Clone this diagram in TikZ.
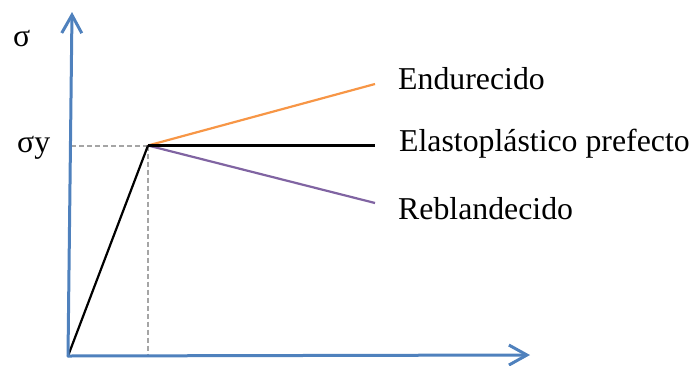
\documentclass[tikz,border=0pt]{standalone}
\usepackage{fontspec}
\setmainfont{Liberation Serif}
\usetikzlibrary{arrows.meta}
\definecolor{axisblue}{HTML}{4F81BD}
\definecolor{hardorange}{HTML}{F79646}
\definecolor{softpurple}{HTML}{8064A2}
\definecolor{guidegrey}{HTML}{A5A5A5}
\tikzset{
  axis/.style={draw=axisblue, line width=3pt, line cap=round,
    -{Straight Barb[length=18pt, width=20pt, line width=3pt]}},
  curve/.style={line width=2.2pt},
  guide/.style={draw=guidegrey, line width=2pt, dash pattern=on 5pt off 3pt},
  lbl/.style={anchor=base west, inner sep=0pt, font=\fontsize{31.8}{36}\selectfont}
}
\begin{document}
\begin{tikzpicture}[x=1pt, y=-1pt]
  \useasboundingbox (0,0) rectangle (696,365);
  % key points
  \coordinate (O) at (68,356);
  \coordinate (ytip) at (72,12);
  \coordinate (xtip) at (530,355);
  \coordinate (Y) at (148,145.5);
  \coordinate (yaxisY) at (71,145.5);
  \coordinate (xaxisY) at (148,356);
  \coordinate (hard) at (375,84);
  \coordinate (perf) at (375,145.5);
  \coordinate (soft) at (375,203);
  % yield guide lines
  \draw[guide] (yaxisY) -- (Y);
  \draw[guide] (Y) -- (xaxisY);
  % stress-strain branches
  \draw[curve, black] (O) -- (Y);
  \draw[curve, hardorange] (Y) -- (hard);
  \draw[curve, softpurple] (Y) -- (soft);
  \draw[curve, black] (Y) -- (perf);
  % axes
  \draw[axis] (O) -- (ytip);
  \draw[axis] (O) -- (xtip);
  % labels
  \node[lbl] (sig) at (13,46) {σ};
  \node[lbl] (sigy) at (17,152) {σy};
  \node[lbl] (lhard) at (398,89) {Endurecido};
  \node[lbl] (lperf) at (399,151) {Elastoplástico prefecto};
  \node[lbl] (lsoft) at (398,219) {Reblandecido};
\end{tikzpicture}
\end{document}
